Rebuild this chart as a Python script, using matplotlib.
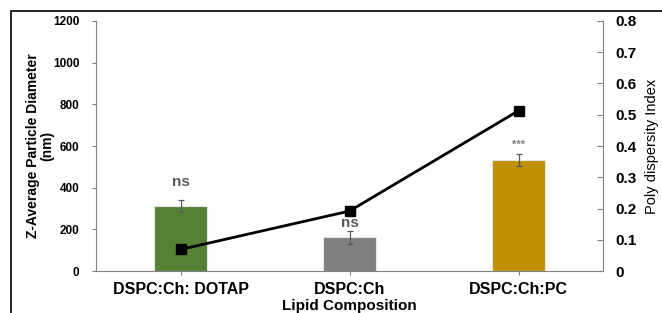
import matplotlib
matplotlib.use("Agg")
import matplotlib.pyplot as plt
from matplotlib.patches import Rectangle

plt.rcParams['font.family'] = ['Liberation Sans', 'DejaVu Sans']

# data
categories = ["DSPC:Ch: DOTAP", "DSPC:Ch", "DSPC:Ch:PC"]
z_average = [313, 162, 533]
z_err = [30, 30, 28]
pdi = [0.069, 0.192, 0.513]
signif = ["ns", "ns", "***"]
signif_y = [427, 232, 605]
bar_colors = ["#548235", "#808080", "#BF9000"]

fig = plt.figure(figsize=(6.62, 3.13), dpi=100)
ax = fig.add_axes([0.145, 0.134, 0.766, 0.799])
ax2 = ax.twinx()

x = list(range(len(categories)))
ax.bar(x, z_average, width=0.31, color=bar_colors, edgecolor="#e6e6e6", linewidth=0.8, zorder=2)
ax.errorbar(x, z_average, yerr=z_err, fmt="none", ecolor="#595959", elinewidth=0.9, capsize=2.5, capthick=0.9, zorder=3)

# significance labels
ax.text(x[0], signif_y[0], signif[0], ha="center", va="center", fontsize=11, fontweight="bold", color="#595959")
ax.text(x[1], signif_y[1], signif[1], ha="center", va="center", fontsize=11, fontweight="bold", color="#595959")
ax.text(x[2], signif_y[2], signif[2], ha="center", va="center", fontsize=8, fontweight="bold", color="#808080")

ax.set_xlim(-0.5, 2.5)
ax.set_ylim(0, 1200)
ax.set_yticks(range(0, 1201, 200))
ax.set_xticks(x)
ax.set_xticklabels(categories, fontsize=11.5, fontweight="bold")
ax.set_ylabel("Z-Average Particle Diameter\n(nm)", fontsize=10, fontweight="bold", linespacing=1.0, labelpad=-1)
ax.set_xlabel("Lipid Composition", fontsize=11, fontweight="bold", labelpad=1)
for lbl in ax.get_yticklabels():
    lbl.set_fontweight("bold")
    lbl.set_fontsize(8.5)
ax.tick_params(axis="y", direction="out", length=3, color="#808080", pad=9)
ax.tick_params(axis="x", direction="out", length=3, color="#808080", pad=5)

ax2.plot(x, pdi, color="black", linewidth=2, marker="s", markersize=7, zorder=4)
ax2.set_ylim(0, 0.8)
ax2.set_yticks([0, 0.1, 0.2, 0.3, 0.4, 0.5, 0.6, 0.7, 0.8])
ax2.set_yticklabels(["0", "0.1", "0.2", "0.3", "0.4", "0.5", "0.6", "0.7", "0.8"], fontsize=11, fontweight="bold")
ax2.tick_params(axis="y", direction="in", length=4, color="#808080", pad=9)
ax2.set_ylabel("Poly dispersity Index", fontsize=10.5, labelpad=6)

for a in (ax, ax2):
    a.spines["top"].set_visible(False)
    for s in ("left", "right", "bottom"):
        a.spines[s].set_color("#808080")
ax.spines["right"].set_visible(False)
ax2.spines["left"].set_visible(False)
ax2.spines["bottom"].set_visible(False)

# outer frame
fig.patches.append(Rectangle((11 / 662, -0.1), 1.2, 1 - 11 / 313 + 0.1, transform=fig.transFigure,
                             fill=False, edgecolor="black", linewidth=1.2))

fig.savefig("out.png", dpi=100)
